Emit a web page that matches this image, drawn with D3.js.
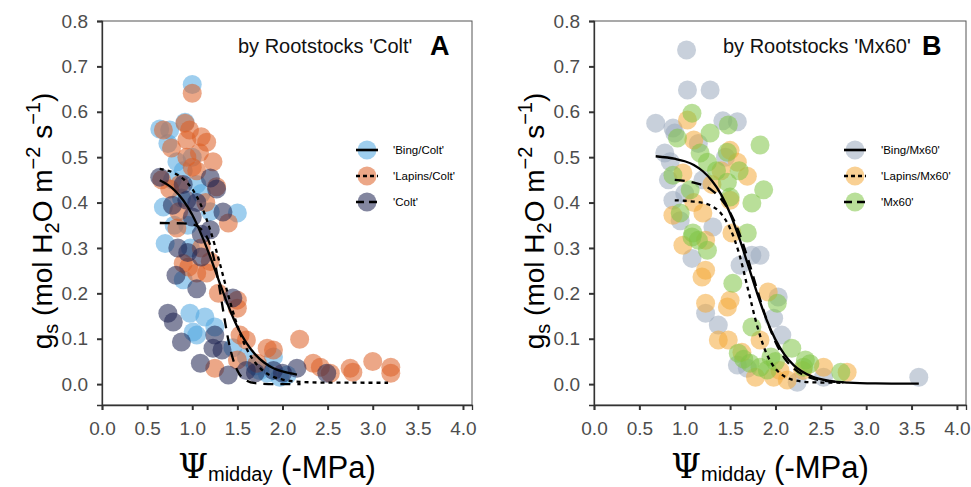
<!DOCTYPE html>
<html>
<head>
<meta charset="utf-8">
<script src="https://cdn.jsdelivr.net/npm/d3@7"></script>
<style>
  body { margin: 0; background: #fff; }
  svg { display: block; font-family: "Liberation Sans", Arial, sans-serif; }
</style>
</head>
<body>
<div id="chart"></div>
<script>
// ---- data: points [psi, gs] ----
var bingColt = [[0.64,0.562],[0.73,0.53],[0.92,0.577],[1.0,0.66],[0.83,0.49],[0.68,0.39],[0.70,0.31],
  [1.5,0.377],[0.78,0.45],[0.9,0.47],[1.05,0.44],[0.88,0.41],[0.95,0.35],[1.1,0.42],[0.8,0.35],
  [0.98,0.30],[0.9,0.23],[0.975,0.156],[1.14,0.148],[1.25,0.126],[1.01,0.115],[1.05,0.108],
  [1.9,0.06],[1.83,0.024],[1.97,0.015],[1.6,0.06],[1.7,0.04],[1.75,0.03],[1.45,0.08],[2.05,0.02],
  [1.2,0.38],[0.75,0.56],[1.0,0.5]];
var lapinsColt = [[1.0,0.641],[0.92,0.575],[0.68,0.56],[0.77,0.52],[0.94,0.538],[1.1,0.545],[1.16,0.533],
  [1.08,0.51],[1.23,0.49],[0.94,0.50],[1.0,0.478],[0.66,0.45],[0.75,0.43],[0.86,0.44],[1.27,0.435],
  [1.4,0.355],[0.83,0.344],[0.97,0.56],[1.05,0.47],[1.15,0.40],[0.9,0.266],[0.96,0.258],[1.05,0.245],
  [1.16,0.245],[1.29,0.20],[1.5,0.185],[1.5,0.167],[1.53,0.108],[1.6,0.097],[1.83,0.079],[1.9,0.075],
  [2.19,0.099],[2.34,0.046],[2.42,0.037],[2.53,0.024],[2.75,0.035],[2.78,0.026],[3.0,0.05],[3.2,0.037],
  [3.2,0.024],[1.25,0.035],[1.5,0.053],[1.72,0.046],[1.1,0.30],[0.85,0.38],[1.2,0.27]];
var colt = [[0.64,0.456],[1.2,0.454],[1.27,0.43],[0.78,0.394],[0.94,0.405],[1.05,0.40],[1.34,0.379],
  [1.0,0.368],[1.2,0.34],[0.84,0.30],[0.95,0.29],[1.1,0.28],[0.82,0.24],[1.05,0.21],[0.73,0.156],
  [0.79,0.137],[0.88,0.093],[1.09,0.046],[1.25,0.108],[1.23,0.079],[1.33,0.075],[1.40,0.02],[1.6,0.03],
  [1.45,0.19],[1.9,0.03],[2.0,0.024],[2.16,0.035],[2.49,0.024],[1.1,0.33],[0.9,0.44],[1.7,0.025]];

var bingMx = [[1.02,0.736],[1.03,0.648],[1.28,0.648],[0.68,0.575],[0.87,0.564],[0.89,0.553],[1.42,0.58],
  [1.58,0.578],[0.78,0.509],[0.84,0.49],[1.15,0.53],[0.82,0.45],[0.87,0.405],[1.31,0.346],[1.0,0.42],
  [1.2,0.45],[1.08,0.277],[1.61,0.262],[1.74,0.284],[1.83,0.284],[2.03,0.192],[1.98,0.145],[2.07,0.108],
  [1.23,0.156],[1.37,0.13],[1.58,0.042],[1.69,0.035],[2.24,0.004],[3.58,0.015],[2.53,0.015],[1.45,0.5],
  [0.95,0.36]];
var lapinsMx = [[1.03,0.582],[1.1,0.538],[1.5,0.515],[1.69,0.458],[0.98,0.465],[0.87,0.372],[1.2,0.377],
  [1.5,0.405],[1.58,0.489],[1.3,0.44],[0.98,0.306],[1.23,0.317],[1.23,0.251],[1.19,0.236],[1.23,0.178],
  [1.5,0.185],[1.47,0.17],[1.37,0.097],[1.48,0.097],[1.63,0.07],[1.92,0.203],[1.83,0.097],[1.78,0.015],
  [1.98,0.015],[2.13,0.009],[2.53,0.037],[2.79,0.026],[1.52,0.333],[2.3,0.03],[1.4,0.47],[1.1,0.4],
  [2.05,0.03]];
var mx60 = [[1.08,0.597],[1.48,0.571],[1.83,0.527],[1.28,0.553],[0.92,0.542],[1.47,0.511],[1.17,0.509],
  [1.25,0.489],[1.87,0.428],[1.74,0.399],[1.47,0.445],[0.87,0.46],[1.06,0.428],[0.95,0.377],[1.5,0.412],
  [1.69,0.333],[1.09,0.333],[1.08,0.324],[1.15,0.317],[1.25,0.295],[1.53,0.222],[2.02,0.178],[1.74,0.126],
  [2.18,0.079],[1.59,0.068],[1.72,0.046],[1.83,0.037],[1.91,0.031],[2.33,0.053],[2.38,0.045],[2.72,0.026],
  [2.31,0.037],[1.35,0.47],[1.6,0.47],[2.0,0.05],[1.65,0.055],[1.95,0.06]];

// ---- fitted curves [psi, gs] ----
var fitBingColt = [[0.64,0.449],[0.8,0.428],[0.9,0.405],[1.0,0.373],[1.1,0.330],[1.2,0.280],[1.3,0.225],
  [1.4,0.172],[1.5,0.126],[1.6,0.091],[1.7,0.065],[1.8,0.047],[1.9,0.035],[2.0,0.028],[2.16,0.021]];
var fitLapinsColt = [[0.64,0.474],[0.8,0.465],[0.9,0.452],[1.0,0.430],[1.1,0.393],[1.2,0.339],[1.3,0.270],
  [1.4,0.195],[1.5,0.129],[1.6,0.079],[1.7,0.047],[1.8,0.027],[1.9,0.016],[2.0,0.010],[2.2,0.005],
  [2.5,0.0033],[3.17,0.003]];
var fitColt = [[0.64,0.355],[0.9,0.354],[1.0,0.352],[1.1,0.341],[1.2,0.306],[1.25,0.268],[1.3,0.214],
  [1.35,0.153],[1.4,0.097],[1.45,0.056],[1.5,0.030],[1.6,0.008],[1.7,0.002],[1.9,0.0],[2.2,0.0]];
var fitBingMx = [[0.68,0.502],[0.9,0.496],[1.0,0.491],[1.1,0.483],[1.2,0.469],[1.3,0.448],[1.4,0.418],
  [1.5,0.376],[1.6,0.322],[1.7,0.261],[1.8,0.199],[1.9,0.143],[2.0,0.098],[2.1,0.065],[2.2,0.042],
  [2.4,0.017],[2.6,0.0069],[2.8,0.0032],[3.1,0.0015],[3.58,0.001]];
var fitLapinsMx = [[0.89,0.405],[1.0,0.404],[1.1,0.402],[1.2,0.399],[1.3,0.392],[1.4,0.376],[1.5,0.343],
  [1.6,0.287],[1.7,0.207],[1.8,0.127],[1.9,0.068],[2.0,0.034],[2.1,0.017],[2.2,0.009],[2.4,0.004],
  [2.75,0.003]];
var fitMx60 = [[0.89,0.450],[1.0,0.448],[1.1,0.444],[1.2,0.438],[1.3,0.427],[1.4,0.408],[1.5,0.378],
  [1.6,0.333],[1.7,0.274],[1.8,0.207],[1.9,0.144],[2.0,0.093],[2.1,0.057],[2.2,0.035],[2.4,0.013],
  [2.6,0.006],[2.75,0.004]];

var xTicks = [0, 0.5, 1, 1.5, 2, 2.5, 3, 3.5, 4];
var yTicks = [0, 0.1, 0.2, 0.3, 0.4, 0.5, 0.6, 0.7, 0.8];

var panelA = {
  left: 102, right: 472, title: "by Rootstocks 'Colt'", tag: "A", titleX: 238, tagX: 430,
  legX: 367, legY: 150,
  groups: [
    {name: "'Bing/Colt'", color: "#4FA6E0", pts: bingColt, fit: fitBingColt, dash: null},
    {name: "'Lapins/Colt'", color: "#DC5E24", pts: lapinsColt, fit: fitLapinsColt, dash: "4,4"},
    {name: "'Colt'", color: "#1E2250", pts: colt, fit: fitColt, dash: "10,7"}
  ]
};
var panelB = {
  left: 594, right: 966, title: "by Rootstocks 'Mx60'", tag: "B", titleX: 723, tagX: 922,
  legX: 855, legY: 150,
  groups: [
    {name: "'Bing/Mx60'", color: "#9AAABE", pts: bingMx, fit: fitBingMx, dash: null},
    {name: "'Lapins/Mx60'", color: "#F4AA3A", pts: lapinsMx, fit: fitLapinsMx, dash: "4,4"},
    {name: "'Mx60'", color: "#80C445", pts: mx60, fit: fitMx60, dash: "10,7"}
  ]
};

var svg = d3.select("#chart").append("svg")
  .attr("width", 971).attr("height", 487);

var plotTop = 21, plotBottom = 405;

function drawPanel(p) {
  var x = d3.scaleLinear().domain([0, 4.1]).range([p.left, p.right]);
  var y = d3.scaleLinear().domain([-0.046, 0.8]).range([plotBottom, plotTop]);
  var g = svg.append("g");

  // frame
  g.append("rect").attr("x", p.left).attr("y", plotTop)
    .attr("width", p.right - p.left).attr("height", plotBottom - plotTop)
    .attr("fill", "none").attr("stroke", "#555").attr("stroke-width", 1);

  var yAxis = g.append("g").attr("transform", "translate(" + p.left + ",0)")
    .call(d3.axisLeft(y).tickValues(yTicks).tickFormat(d3.format(".1f")).tickSize(5).tickPadding(9));
  var xAxis = g.append("g").attr("transform", "translate(0," + plotBottom + ")")
    .call(d3.axisBottom(x).tickValues(xTicks).tickFormat(d3.format(".1f")).tickSize(5).tickPadding(12));
  [yAxis, xAxis].forEach(function(a) {
    a.select(".domain").attr("stroke", "#333").attr("stroke-width", 1.3);
    a.selectAll(".tick line").attr("stroke", "#333").attr("stroke-width", 2);
    a.selectAll(".tick text").attr("fill", "#4d4d4d").style("font-size", "19px")
      .style("font-family", "'Liberation Sans', Arial, sans-serif");
  });

  // points
  p.groups.forEach(function(grp) {
    g.append("g").selectAll("circle").data(grp.pts).enter().append("circle")
      .attr("cx", function(d) { return x(d[0]); })
      .attr("cy", function(d) { return y(d[1]); })
      .attr("r", 9.5)
      .attr("fill", grp.color).attr("fill-opacity", 0.55);
  });

  // fitted curves
  var line = d3.line().x(function(d) { return x(d[0]); }).y(function(d) { return y(d[1]); })
    .curve(d3.curveMonotoneX);
  p.groups.forEach(function(grp) {
    g.append("path").datum(grp.fit).attr("d", line)
      .attr("fill", "none").attr("stroke", "#000").attr("stroke-width", 2.3)
      .attr("stroke-dasharray", grp.dash);
  });

  // title and tag
  g.append("text").attr("x", p.titleX).attr("y", 53).text(p.title)
    .style("font-size", "20px").attr("fill", "#111");
  g.append("text").attr("x", p.tagX).attr("y", 55).text(p.tag)
    .style("font-size", "27px").style("font-weight", "bold").attr("fill", "#000");

  // legend
  p.groups.forEach(function(grp, i) {
    var cy = p.legY + i * 26;
    var lg = g.append("g");
    lg.append("circle").attr("cx", p.legX).attr("cy", cy).attr("r", 9.5)
      .attr("fill", grp.color).attr("fill-opacity", 0.55);
    lg.append("line").attr("x1", p.legX - 11).attr("x2", p.legX + 11)
      .attr("y1", cy).attr("y2", cy).attr("stroke", "#000").attr("stroke-width", 2.6)
      .attr("stroke-dasharray", grp.dash ? (grp.dash === "4,4" ? "4,3" : "8,5") : null);
    lg.append("text").attr("x", p.legX + 26).attr("y", cy + 4).text(grp.name)
      .style("font-size", "11.5px").attr("fill", "#000");
  });

  // y axis title
  var ytx = p.left - 50, yty = 221;
  var yt = g.append("text").attr("transform", "translate(" + ytx + "," + yty + ") rotate(-90)")
    .attr("text-anchor", "middle").style("font-size", "28px").attr("fill", "#000");
  yt.append("tspan").text("g");
  yt.append("tspan").attr("dy", 6).style("font-size", "20px").text("s");
  yt.append("tspan").attr("dy", -6).text(" (mol H");
  yt.append("tspan").attr("dy", 7).style("font-size", "20px").text("2");
  yt.append("tspan").attr("dy", -7).text("O m");
  yt.append("tspan").attr("dy", -12).style("font-size", "20px").text("\u22122");
  yt.append("tspan").attr("dy", 12).text(" s");
  yt.append("tspan").attr("dy", -12).style("font-size", "20px").text("\u22121");
  yt.append("tspan").attr("dy", 12).text(")");

  // x axis title
  var xt = g.append("text").attr("x", (p.left + p.right) / 2 - 10).attr("y", 478)
    .attr("text-anchor", "middle").style("font-size", "31px").attr("fill", "#000");
  xt.append("tspan").style("font-family", "'DejaVu Serif', serif").style("font-size", "34px").text("\u03A8");
  xt.append("tspan").attr("dy", 3).style("font-size", "20px").text("midday");
  xt.append("tspan").attr("dy", -3).text(" (-MPa)");
}

drawPanel(panelA);
drawPanel(panelB);
</script>
</body>
</html>
